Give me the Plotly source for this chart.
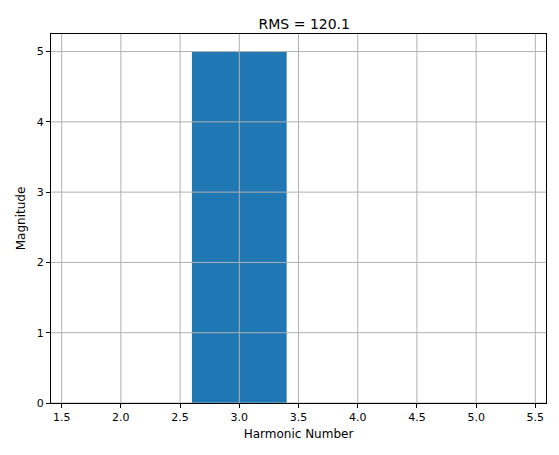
import plotly.graph_objects as go

harmonics = [2, 3, 4, 5]
magnitudes = [0, 5, 0, 0]
title = "RMS = 120.1"
x_ticks = [1.5, 2, 2.5, 3, 3.5, 4, 4.5, 5, 5.5]
y_ticks = [0, 1, 2, 3, 4, 5]

fig = go.Figure()
fig.add_trace(go.Bar(x=harmonics, y=magnitudes, width=0.8,
                     marker=dict(color="#1f77b4", line=dict(width=0))))

ax = dict(showline=True, linecolor="black", linewidth=1, mirror=True,
          showgrid=False, ticks="outside", ticklen=4, tickcolor="black",
          zeroline=False, tickfont=dict(size=11, color="black"), layer="above traces")

# matplotlib draws the grid over the bars
grid = dict(color="#b0b0b0", width=1)
for v in x_ticks:
    fig.add_shape(type="line", xref="x", yref="paper", x0=v, x1=v, y0=0, y1=1,
                  line=grid, layer="above")
for v in y_ticks:
    fig.add_shape(type="line", xref="paper", yref="y", x0=0, x1=1, y0=v, y1=v,
                  line=grid, layer="above")

fig.update_layout(
    width=559, height=455,
    paper_bgcolor="white", plot_bgcolor="white",
    font=dict(family="DejaVu Sans", color="black"),
    title=dict(text=title, x=0.53, xanchor="center", y=0.975, font=dict(size=14)),
    margin=dict(l=41, r=21, t=26, b=60),
    showlegend=False,
    xaxis=dict(ax, range=[1.41, 5.59], tickvals=x_ticks,
               ticktext=["%.1f" % v for v in x_ticks],
               title=dict(text="Harmonic Number", font=dict(size=12), standoff=6)),
    yaxis=dict(ax, range=[0, 5.25], tickvals=y_ticks,
               title=dict(text="Magnitude", font=dict(size=12), standoff=8)),
)
fig.write_html("out.html")
